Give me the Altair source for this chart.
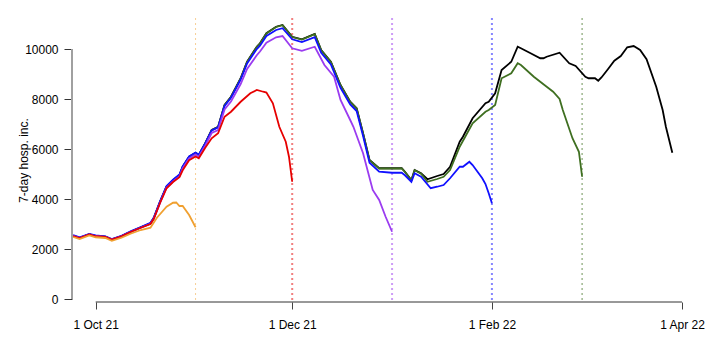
import altair as alt
import pandas as pd

FONT = "Liberation Sans"

# ---------------- data ----------------
black_dates = ["2021-09-24","2021-09-26","2021-09-29","2021-10-01","2021-10-04","2021-10-06","2021-10-09","2021-10-12",
               "2021-10-15","2021-10-18","2021-10-19","2021-10-21","2021-10-23","2021-10-25","2021-10-27","2021-10-28",
               "2021-10-30","2021-11-01","2021-11-02","2021-11-04","2021-11-06","2021-11-08","2021-11-10","2021-11-12",
               "2021-11-15","2021-11-17","2021-11-20","2021-11-21","2021-11-23","2021-11-26","2021-11-28","2021-12-01",
               "2021-12-04","2021-12-08","2021-12-10","2021-12-13","2021-12-16","2021-12-19","2021-12-21","2021-12-23",
               "2021-12-25","2021-12-28","2022-01-01","2022-01-04","2022-01-05","2022-01-07","2022-01-08","2022-01-10",
               "2022-01-12","2022-01-15","2022-01-17","2022-01-19","2022-01-22","2022-01-23","2022-01-26","2022-01-30",
               "2022-01-31","2022-02-02","2022-02-04","2022-02-07","2022-02-09","2022-02-10","2022-02-13","2022-02-16",
               "2022-02-17","2022-02-18","2022-02-22","2022-02-25","2022-02-27","2022-03-02","2022-03-03","2022-03-05",
               "2022-03-06","2022-03-07","2022-03-09","2022-03-11","2022-03-13","2022-03-15","2022-03-17","2022-03-19",
               "2022-03-21","2022-03-24","2022-03-26","2022-03-27","2022-03-29"]
black_vals = [2540,2450,2590,2520,2490,2390,2520,2700,
              2870,3030,3230,3900,4500,4750,4960,5290,
              5690,5850,5760,6230,6760,6890,7760,8090,
              8830,9490,10090,10230,10630,10890,10960,10490,
              10390,10600,9960,9490,8560,7890,7630,6630,
              5560,5230,5230,5230,5090,4760,5160,5030,
              4790,4920,5000,5290,6290,6490,7230,7830,
              7890,8230,9160,9490,10090,10030,9830,9630,
              9630,9690,9850,9430,9320,8890,8830,8830,
              8730,8860,9190,9530,9720,10070,10120,9960,
              9590,8490,7560,6890,5850]

green_dates = ["2021-09-24","2021-09-26","2021-09-29","2021-10-01","2021-10-04","2021-10-06","2021-10-09","2021-10-12",
               "2021-10-15","2021-10-18","2021-10-19","2021-10-21","2021-10-23","2021-10-25","2021-10-27","2021-10-28",
               "2021-10-30","2021-11-01","2021-11-02","2021-11-04","2021-11-06","2021-11-08","2021-11-10","2021-11-12",
               "2021-11-15","2021-11-17","2021-11-20","2021-11-21","2021-11-23","2021-11-26","2021-11-28","2021-12-01",
               "2021-12-04","2021-12-08","2021-12-10","2021-12-13","2021-12-16","2021-12-19","2021-12-21","2021-12-23",
               "2021-12-25","2021-12-28","2022-01-01","2022-01-04","2022-01-05","2022-01-07","2022-01-08","2022-01-10",
               "2022-01-12","2022-01-15","2022-01-17","2022-01-19","2022-01-22","2022-01-26","2022-01-30","2022-01-31",
               "2022-02-02","2022-02-04","2022-02-07","2022-02-09","2022-02-10","2022-02-14","2022-02-18","2022-02-20",
               "2022-02-22","2022-02-23","2022-02-26","2022-02-28","2022-03-01"]
green_vals = [2530,2440,2580,2510,2480,2380,2510,2690,
              2860,3020,3220,3890,4490,4740,4950,5280,
              5680,5840,5750,6220,6750,6880,7750,8080,
              8820,9480,10080,10220,10620,10880,10950,10480,
              10380,10590,9950,9480,8550,7880,7620,6620,
              5550,5220,5220,5220,5080,4750,5150,5010,
              4690,4800,4890,5160,6090,7030,7490,7560,
              7760,8830,9030,9430,9360,8890,8490,8290,
              8000,7560,6430,5890,4890]

blue_dates = ["2021-09-24","2021-09-26","2021-09-29","2021-10-01","2021-10-04","2021-10-06","2021-10-09","2021-10-12",
              "2021-10-15","2021-10-18","2021-10-19","2021-10-21","2021-10-23","2021-10-25","2021-10-27","2021-10-28",
              "2021-10-30","2021-11-01","2021-11-02","2021-11-04","2021-11-06","2021-11-08","2021-11-10","2021-11-12",
              "2021-11-15","2021-11-17","2021-11-20","2021-11-21","2021-11-23","2021-11-26","2021-11-28","2021-12-01",
              "2021-12-04","2021-12-08","2021-12-10","2021-12-13","2021-12-16","2021-12-19","2021-12-21","2021-12-23",
              "2021-12-25","2021-12-28","2022-01-01","2022-01-04","2022-01-05","2022-01-07","2022-01-08","2022-01-10",
              "2022-01-13","2022-01-15","2022-01-17","2022-01-19","2022-01-22","2022-01-23","2022-01-25","2022-01-26",
              "2022-01-29","2022-01-30","2022-01-31","2022-02-01"]
blue_vals = [2560,2470,2600,2540,2500,2400,2530,2720,
             2880,3050,3250,3920,4520,4770,4980,5300,
             5700,5860,5770,6220,6740,6870,7720,8050,
             8780,9420,10000,10130,10520,10760,10830,10390,
             10280,10470,9850,9380,8450,7780,7520,6520,
             5450,5090,5050,5050,4950,4690,5030,4890,
             4430,4490,4560,4830,5290,5290,5490,5360,
             4830,4600,4230,3830]

purple_dates = ["2021-09-24","2021-09-26","2021-09-29","2021-10-01","2021-10-04","2021-10-06","2021-10-09","2021-10-12",
                "2021-10-15","2021-10-18","2021-10-19","2021-10-21","2021-10-23","2021-10-25","2021-10-27","2021-10-28",
                "2021-10-30","2021-11-01","2021-11-02","2021-11-04","2021-11-06","2021-11-08","2021-11-10","2021-11-12",
                "2021-11-15","2021-11-17","2021-11-20","2021-11-21","2021-11-23","2021-11-26","2021-11-28","2021-12-01",
                "2021-12-04","2021-12-08","2021-12-11","2021-12-14","2021-12-16","2021-12-19","2021-12-20","2021-12-23",
                "2021-12-26","2021-12-28","2021-12-30","2022-01-01"]
purple_vals = [2530,2440,2580,2510,2480,2380,2510,2690,
               2850,3010,3200,3850,4450,4700,4900,5220,
               5620,5780,5690,6130,6640,6760,7580,7900,
               8600,9200,9750,9900,10250,10470,10520,10030,
               9930,10090,9360,8890,7960,7160,6890,5830,
               4360,3960,3290,2690]

red_dates = ["2021-09-24","2021-09-26","2021-09-29","2021-10-01","2021-10-04","2021-10-06","2021-10-09","2021-10-12",
             "2021-10-15","2021-10-18","2021-10-19","2021-10-21","2021-10-23","2021-10-25","2021-10-27","2021-10-28",
             "2021-10-30","2021-11-01","2021-11-02","2021-11-04","2021-11-06","2021-11-08","2021-11-10","2021-11-12",
             "2021-11-15","2021-11-18","2021-11-20","2021-11-22","2021-11-23","2021-11-25","2021-11-27","2021-11-29",
             "2021-11-30","2021-12-01"]
red_vals = [2520,2440,2580,2510,2480,2380,2510,2690,
            2850,3000,3200,3850,4430,4680,4870,5150,
            5550,5700,5630,6050,6430,6630,7290,7490,
            7890,8230,8360,8290,8260,7830,6890,6290,
            5690,4690]

orange_dates = ["2021-09-24","2021-09-26","2021-09-29","2021-10-01","2021-10-04","2021-10-06","2021-10-09","2021-10-12",
                "2021-10-15","2021-10-18","2021-10-20","2021-10-23","2021-10-25","2021-10-26","2021-10-27","2021-10-28",
                "2021-10-30","2021-11-01"]
orange_vals = [2480,2400,2540,2470,2440,2330,2450,2620,
               2760,2850,3250,3690,3850,3860,3720,3720,
               3360,2870]

series_names = ["black", "green", "blue", "purple", "red", "orange"]
series_colors = ["#000000", "#3f6f21", "#1010ff", "#9b3cf0", "#e60000", "#f0a030"]
series_data = [(black_dates, black_vals), (green_dates, green_vals), (blue_dates, blue_vals),
               (purple_dates, purple_vals), (red_dates, red_vals), (orange_dates, orange_vals)]

vline_dates = ["2021-11-01", "2021-12-01", "2022-01-01", "2022-02-01", "2022-03-01"]
vline_colors = ["#f0a030", "#e60000", "#9b3cf0", "#1010ff", "#3f6f21"]
vline_widths = [1, 2, 2, 2, 1.5]

x_tick_dates = [(2021, 10, 1), (2021, 12, 1), (2022, 2, 1), (2022, 4, 1)]
y_ticks = [0, 2000, 4000, 6000, 8000, 10000]

# ---------------- scales / axes ----------------
x_scale = alt.Scale(type="utc", domain=[
    alt.DateTime(year=2021, month=9, date=23, hours=15, minutes=26, utc=True),
    alt.DateTime(year=2022, month=4, date=5, hours=8, minutes=24, utc=True)])
y_scale = alt.Scale(domain=[-120, 11240], nice=False, zero=False)

x_axis = alt.Axis(
    values=[alt.DateTime(year=y, month=m, date=d, utc=True) for (y, m, d) in x_tick_dates],
    labelExpr="utcFormat(datum.value, '%-d %b %y')",
    domain=False, grid=False, ticks=True, tickSize=7, tickColor="#444", tickWidth=1,
    labelFont=FONT, labelFontSize=12, labelColor="#000", labelPadding=10, title=None,
    labelFlush=False, labelOverlap=False)
y_axis = alt.Axis(
    values=y_ticks, format="d", domain=False, grid=False, tickSize=8, tickColor="#333", tickWidth=1,
    labelFont=FONT, labelFontSize=12, labelColor="#000", labelPadding=6,
    title="7-day hosp. inc.", titleFont=FONT, titleFontSize=12, titleFontWeight="normal",
    titleColor="#000", titleX=-45, titleAngle=-90, titleBaseline="alphabetic")

layers = []

# axis lines (R style): x axis from first to last tick, y axis from 0 to 10000
xline_df = pd.DataFrame({"start": ["%04d-%02d-%02d" % x_tick_dates[0]], "end": ["%04d-%02d-%02d" % x_tick_dates[-1]]})
layers.append(alt.Chart(xline_df).mark_rule(color="#333", strokeWidth=1).encode(
    x=alt.X("start:T", scale=x_scale, axis=x_axis), x2="end:T", y=alt.value(284)))
yline_df = pd.DataFrame({"lo": [y_ticks[0]], "hi": [y_ticks[-1]]})
layers.append(alt.Chart(yline_df).mark_rule(color="#a0a0a0", strokeWidth=2).encode(
    y=alt.Y("lo:Q", scale=y_scale, axis=y_axis), y2="hi:Q", x=alt.value(0)))

# vertical dotted lines
for d, c, w in zip(vline_dates, vline_colors, vline_widths):
    df = pd.DataFrame({"date": [d]})
    layers.append(alt.Chart(df).mark_rule(color=c, opacity=0.5, strokeWidth=w, strokeDash=[2, 3]).encode(
        x=alt.X("date:T", scale=x_scale, axis=x_axis)))

# series lines
for name, col, (ds, vs) in zip(series_names, series_colors, series_data):
    df = pd.DataFrame({"date": ds, "value": vs})
    layers.append(alt.Chart(df).mark_line(color=col, strokeWidth=1.8, clip=True).encode(
        x=alt.X("date:T", scale=x_scale, axis=x_axis),
        y=alt.Y("value:Q", scale=y_scale, axis=y_axis)))

chart = alt.layer(*layers).properties(
    width=624, height=284,
    padding={"left": 64, "top": 10, "right": 16, "bottom": 40},
    autosize=alt.AutoSizeParams(type="none"),
).configure_view(stroke=None)

chart.save("out.html", embed_options={"renderer": "svg", "actions": False})
